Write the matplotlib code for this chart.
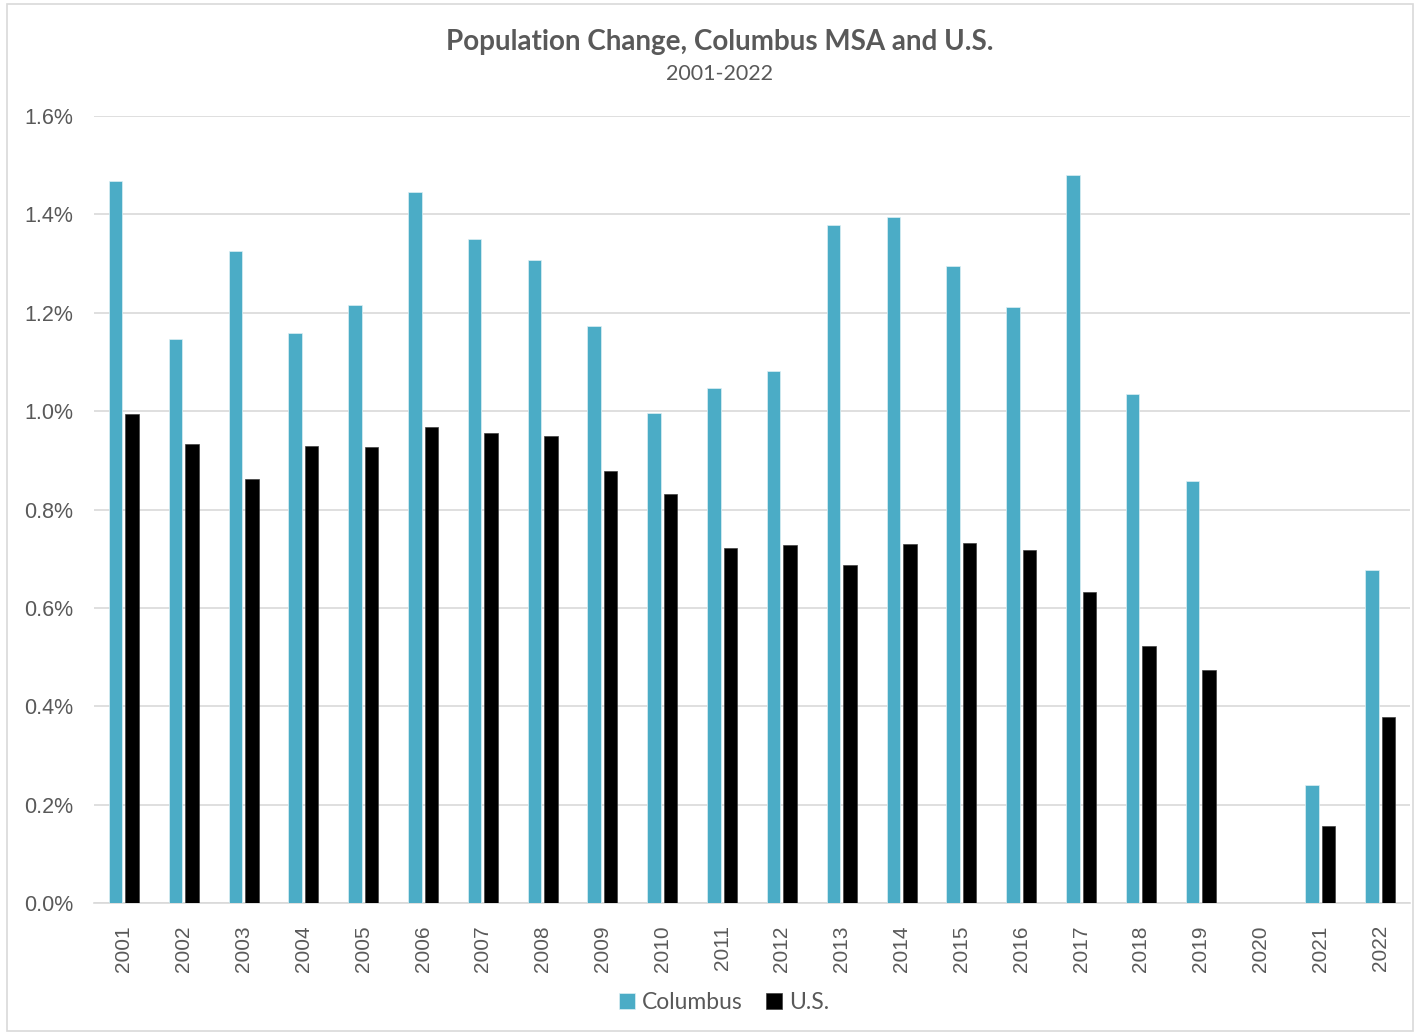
import matplotlib
matplotlib.use("Agg")
import matplotlib.pyplot as plt
import numpy as np
from matplotlib.patches import Rectangle

years = [str(y) for y in range(2001, 2023)]
columbus = [1.467, 1.146, 1.325, 1.159, 1.215, 1.445, 1.350, 1.307, 1.173, 0.996,
            1.047, 1.081, 1.378, 1.394, 1.295, 1.211, 1.480, 1.035, 0.858, np.nan,
            0.240, 0.677]
us = [0.994, 0.933, 0.862, 0.929, 0.927, 0.967, 0.955, 0.949, 0.878, 0.831,
      0.722, 0.728, 0.687, 0.730, 0.732, 0.717, 0.632, 0.522, 0.474, np.nan,
      0.157, 0.378]
yticks = [0.0, 0.2, 0.4, 0.6, 0.8, 1.0, 1.2, 1.4, 1.6]

c_col = "#4BACC6"
c_us = "#000000"
txt = "#595959"

fig = plt.figure(figsize=(14.2, 10.34), dpi=100)
fig.patches.append(Rectangle((0.005, 0.003), 0.99, 0.993, transform=fig.transFigure,
                             fill=False, edgecolor="#D9D9D9", linewidth=1.2))
ax = fig.add_axes([0.0662, 0.1267, 0.9268, 0.7611])

x = np.arange(len(years))
w = 0.226
off = 0.138
ax.bar(x - off, columbus, width=w, color=c_col, edgecolor="#DDEFF4", linewidth=0.5,
       label="Columbus", zorder=3)
ax.bar(x + off, us, width=w, color=c_us, edgecolor="#404040", linewidth=0.5,
       label="U.S.", zorder=3)

ax.set_xlim(-0.5, len(years) - 0.5)
ax.set_ylim(0, 1.6)
ax.set_yticks(yticks)
ax.set_yticklabels([f"{v:.1f}%" for v in yticks], fontsize=15.5, color=txt,
                   family="Liberation Sans")
ax.set_xticks(x)
ax.set_xticklabels(years, rotation=90, fontsize=15, color=txt, family="Liberation Sans")
ax.tick_params(axis="both", length=0)
ax.tick_params(axis="y", pad=15)
ax.tick_params(axis="x", pad=16)
ax.grid(axis="y", color="#D9D9D9", linewidth=1.2, zorder=0)
for s in ["top", "right", "left"]:
    ax.spines[s].set_visible(False)
ax.spines["bottom"].set_color("#D9D9D9")
ax.spines["bottom"].set_linewidth(1.2)

fig.text(0.507, 0.959, "Population Change, Columbus MSA and U.S.", ha="center", va="center",
         fontsize=20, fontweight="bold", color=txt, family="Lato")
fig.text(0.507, 0.928, "2001-2022", ha="center", va="center", fontsize=15.5,
         color=txt, family="Lato")

leg = fig.legend(loc="center", bbox_to_anchor=(0.51, 0.030), ncol=2, frameon=False,
                 prop={"family": "Lato", "size": 16.5}, handlelength=0.7, handleheight=0.7,
                 handletextpad=0.3, columnspacing=1.0)
for t in leg.get_texts():
    t.set_color(txt)

fig.savefig("out.png", dpi=100)
